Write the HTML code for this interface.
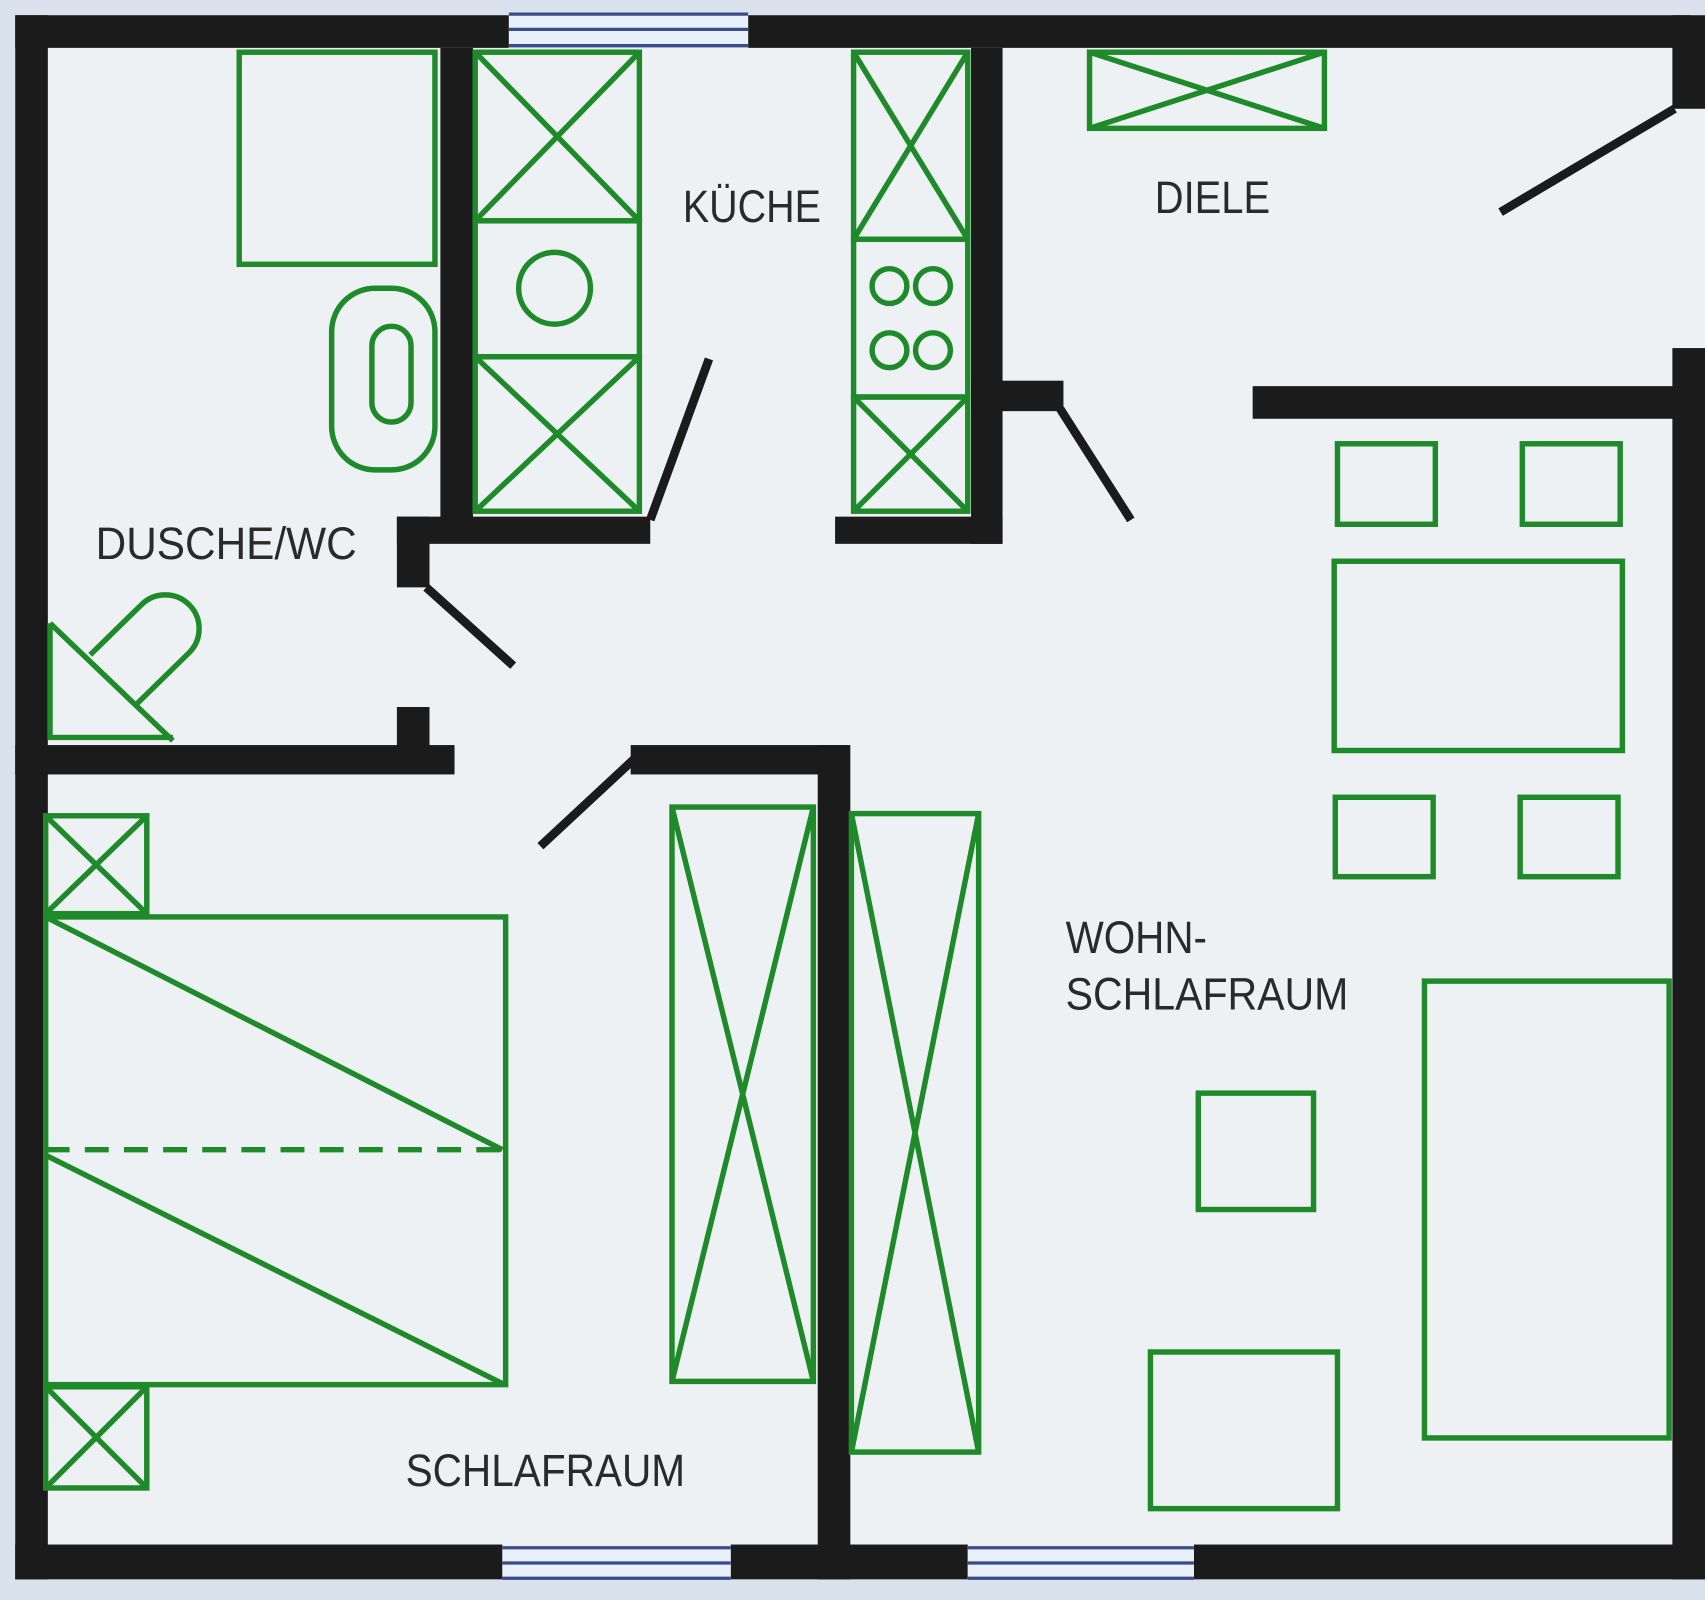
<!DOCTYPE html>
<html><head><meta charset="utf-8"><style>
html,body{margin:0;padding:0;background:#dfe6ee;}
svg{display:block}
text{font-family:"Liberation Sans Narrow","Liberation Sans",sans-serif;fill:#2a2a2a;font-size:42px}
</style></head><body>
<svg width="1705" height="1600" viewBox="0 0 1568 1471" preserveAspectRatio="none" xmlns="http://www.w3.org/2000/svg">
<rect x="0" y="0" width="1568" height="1471" fill="#d9e2ec"/>
<rect x="14" y="14" width="1554" height="1438" fill="#eef1f4"/>
<g fill="#1b1b1b">
<!-- outer walls -->
<rect x="14" y="14" width="454" height="30"/>
<rect x="688" y="14" width="867" height="30"/>
<rect x="1538" y="14" width="30" height="86"/>
<rect x="1538" y="320" width="30" height="1132"/>
<rect x="14" y="14" width="30" height="1438"/>
<rect x="14" y="1420" width="448" height="32"/>
<rect x="672" y="1420" width="218" height="32"/>
<rect x="1098" y="1420" width="470" height="32"/>
<!-- interior -->
<rect x="405" y="44" width="30" height="451"/>
<rect x="365" y="475" width="233" height="25"/>
<rect x="365" y="475" width="30" height="65"/>
<rect x="365" y="650" width="30" height="40"/>
<rect x="14" y="685" width="404" height="27"/>
<rect x="893" y="44" width="29" height="456"/>
<rect x="768" y="475" width="154" height="25"/>
<rect x="893" y="350" width="85" height="28"/>
<rect x="1152" y="355" width="416" height="30"/>
<rect x="580" y="685" width="200" height="27"/>
<rect x="752" y="685" width="30" height="767"/>
</g>
<!-- windows -->
<g>
<rect x="468" y="12" width="220" height="32" fill="#e8f0fa"/>
<rect x="890" y="1422" width="208" height="30" fill="#e8f0fa"/>
<rect x="462" y="1422" width="210" height="30" fill="#e8f0fa"/>
<g stroke="#3a4a8a" stroke-width="3">
<line x1="468" y1="13" x2="688" y2="13"/><line x1="468" y1="27" x2="688" y2="27"/><line x1="468" y1="42" x2="688" y2="42"/>
<line x1="462" y1="1423" x2="672" y2="1423"/><line x1="462" y1="1437" x2="672" y2="1437"/><line x1="462" y1="1451" x2="672" y2="1451"/>
<line x1="890" y1="1423" x2="1098" y2="1423"/><line x1="890" y1="1437" x2="1098" y2="1437"/><line x1="890" y1="1451" x2="1098" y2="1451"/>
</g></g>
<!-- doors -->
<g stroke="#1b1b1b" stroke-width="8" stroke-linecap="butt">
<line x1="598" y1="478" x2="652" y2="330"/>
<line x1="392" y1="540" x2="472" y2="612"/>
<line x1="975" y1="376" x2="1040" y2="478"/>
<line x1="583" y1="698" x2="497" y2="778"/>
<line x1="1380" y1="195" x2="1540" y2="100"/>
</g>
<!-- furniture -->
<g fill="none" stroke="#1f8a2a" stroke-width="5">
<rect x="220" y="48" width="180" height="195"/>
<rect x="305" y="265" width="95" height="167" rx="40"/>
<rect x="342" y="300" width="36" height="88" rx="18"/>
<rect x="437" y="48" width="151" height="155"/><path d="M437 48L588 203M588 48L437 203"/>
<rect x="437" y="203" width="151" height="125"/><circle cx="510" cy="265" r="33"/>
<rect x="437" y="328" width="151" height="142"/><path d="M437 328L588 470M588 328L437 470"/>
<rect x="785" y="48" width="105" height="172"/><path d="M785 48L890 220M890 48L785 220"/>
<rect x="785" y="220" width="105" height="145"/>
<circle cx="818" cy="263" r="16"/><circle cx="858" cy="263" r="16"/><circle cx="818" cy="322" r="16"/><circle cx="858" cy="322" r="16"/>
<rect x="785" y="365" width="105" height="105"/><path d="M785 365L890 470M890 365L785 470"/>
<rect x="1002" y="48" width="216" height="70"/><path d="M1002 48L1218 118M1218 48L1002 118"/>
<path d="M46 573L159 681M46 573L46 678L159 678"/>
<path d="M83 602L130 556A30 30 0 0 1 174 600L126 647"/>
<rect x="1230" y="408" width="90" height="74"/><rect x="1400" y="408" width="90" height="74"/>
<rect x="1227" y="516" width="265" height="174"/>
<rect x="1228" y="733" width="90" height="73"/><rect x="1398" y="733" width="90" height="73"/>
<rect x="1310" y="902" width="225" height="420"/>
<rect x="1102" y="1005" width="106" height="107"/>
<rect x="1058" y="1243" width="172" height="144"/>
<rect x="618" y="742" width="130" height="528"/><path d="M618 742L748 1270M748 742L618 1270"/>
<rect x="783" y="748" width="117" height="587"/><path d="M783 748L900 1335M900 748L783 1335"/>
<rect x="42" y="750" width="93" height="90"/><path d="M42 750L135 840M135 750L42 840"/>
<rect x="42" y="1275" width="93" height="93"/><path d="M42 1275L135 1368M135 1275L42 1368"/>
<rect x="42" y="843" width="423" height="430"/>
<path d="M42 843L462 1057M42 1062L462 1272"/>
<line x1="42" y1="1057" x2="462" y2="1057" stroke-dasharray="22 14"/>
</g>
<text x="628" y="204" textLength="127" lengthAdjust="spacingAndGlyphs">KÜCHE</text>
<text x="1062" y="196" textLength="106" lengthAdjust="spacingAndGlyphs">DIELE</text>
<text x="88" y="514" textLength="240" lengthAdjust="spacingAndGlyphs">DUSCHE/WC</text>
<text x="980" y="876" textLength="130" lengthAdjust="spacingAndGlyphs">WOHN-</text>
<text x="980" y="928" textLength="260" lengthAdjust="spacingAndGlyphs">SCHLAFRAUM</text>
<text x="373" y="1366" textLength="257" lengthAdjust="spacingAndGlyphs">SCHLAFRAUM</text>
</svg>
</body></html>
